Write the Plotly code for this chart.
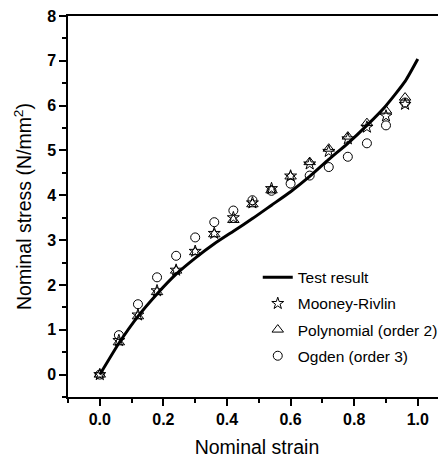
import plotly.graph_objects as go

test_x = [0, 0.06, 0.12, 0.18, 0.24, 0.30, 0.36, 0.42, 0.48, 0.54,
          0.60, 0.66, 0.72, 0.78, 0.84, 0.90, 0.96, 1.0]
test_y = [0, 0.7, 1.3, 1.8, 2.24, 2.6, 2.92, 3.2, 3.48, 3.78,
          4.08, 4.42, 4.8, 5.16, 5.56, 6.0, 6.54, 7.04]

strain = [0, 0.06, 0.12, 0.18, 0.24, 0.30, 0.36, 0.42, 0.48, 0.54,
          0.60, 0.66, 0.72, 0.78, 0.84, 0.90, 0.96]
mooney = [0, 0.76, 1.33, 1.87, 2.33, 2.75, 3.15, 3.5, 3.83, 4.15,
          4.43, 4.7, 4.98, 5.26, 5.52, 5.77, 6.03]
poly2 = [0, 0.72, 1.3, 1.84, 2.32, 2.73, 3.13, 3.45, 3.8, 4.11,
         4.42, 4.74, 5.04, 5.31, 5.61, 5.89, 6.18]
ogden3 = [0, 0.88, 1.57, 2.17, 2.65, 3.06, 3.4, 3.66, 3.89, 4.1,
          4.26, 4.44, 4.63, 4.86, 5.16, 5.56, 6.07]

FONT = "Liberation Sans, Arial, sans-serif"

fig = go.Figure()
fig.add_trace(go.Scatter(x=test_x, y=test_y, mode="lines", name="Test result",
                         line=dict(color="black", width=3, shape="spline", smoothing=0.5),
                         legendgroup="a"))
fig.add_trace(go.Scatter(x=strain, y=mooney, mode="markers", name="Mooney-Rivlin",
                         marker=dict(symbol="star-open", size=9, color="black",
                                     line=dict(width=1, color="black")),
                         legendgroup="b"))
fig.add_trace(go.Scatter(x=strain, y=poly2, mode="markers", name="Polynomial (order 2)",
                         marker=dict(symbol="triangle-up-open", size=10, color="black",
                                     line=dict(width=1, color="black")),
                         legendgroup="c"))
fig.add_trace(go.Scatter(x=strain, y=ogden3, mode="markers", name="Ogden (order 3)",
                         marker=dict(symbol="circle-open", size=9, color="black",
                                     line=dict(width=1, color="black")),
                         legendgroup="d"))

fig.update_layout(
    width=438, height=450,
    margin=dict(l=60, r=0, t=7, b=60),
    plot_bgcolor="white", paper_bgcolor="white",
    font=dict(family=FONT, color="black"),
    showlegend=True,
    legend=dict(x=0.502, y=0.3577, xanchor="left", yanchor="top",
                bgcolor="rgba(0,0,0,0)", font=dict(size=15.5, family=FONT),
                traceorder="grouped", tracegroupgap=3, itemwidth=30),
    xaxis=dict(range=[-0.1, 1.0887], tickvals=[0, 0.2, 0.4, 0.6, 0.8, 1.0],
               ticktext=["0.0", "0.2", "0.4", "0.6", "0.8", "1.0"],
               ticks="outside", ticklen=7, tickwidth=1.5, tickcolor="black",
               minor=dict(dtick=0.1, tick0=0, ticks="outside", ticklen=4, tickwidth=1.5, tickcolor="black"),
               showline=True, linecolor="black", linewidth=1.5, mirror=True,
               showgrid=False, zeroline=False, ticklabeloverflow="allow",
               tickfont=dict(size=16, family=FONT, weight="bold"),
               title=dict(text="Nominal strain", font=dict(size=19.5, family=FONT), standoff=16)),
    yaxis=dict(range=[-0.5, 8], tickvals=[0, 1, 2, 3, 4, 5, 6, 7, 8],
               ticks="outside", ticklen=7, tickwidth=1.5, tickcolor="black",
               minor=dict(dtick=0.5, tick0=0, ticks="outside", ticklen=4, tickwidth=1.5, tickcolor="black"),
               showline=True, linecolor="black", linewidth=1.5, mirror=False,
               showgrid=False, zeroline=False, ticklabeloverflow="allow",
               tickfont=dict(size=16, family=FONT, weight="bold"),
               title=dict(text="Nominal stress (N/mm<sup>2</sup>)", font=dict(size=19.5, family=FONT), standoff=10)),
)

fig.write_html("out.html")
